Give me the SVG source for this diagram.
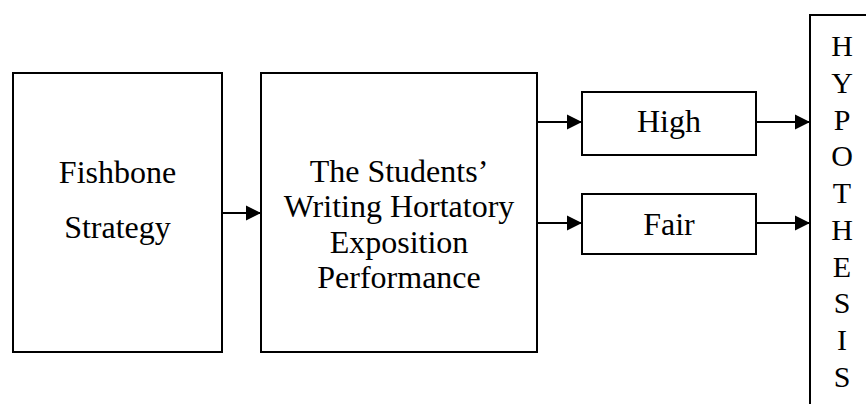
<svg xmlns="http://www.w3.org/2000/svg" width="866" height="404" viewBox="0 0 866 404">
  <defs>
    <marker id="arrow" markerUnits="userSpaceOnUse" markerWidth="16" markerHeight="16" refX="15" refY="8" orient="auto">
      <path d="M0,0.5 L15,8 L0,15.5 Z" fill="#000"/>
    </marker>
    <style>
      .box { fill: #fff; stroke: #000; stroke-width: 2; }
      .lbl { font-family: "Liberation Serif", "Times New Roman", serif; font-size: 32px; fill: #000; text-anchor: middle; }
      .vlbl { font-family: "Liberation Serif", "Times New Roman", serif; font-size: 30px; fill: #000; text-anchor: middle; }
      .conn { stroke: #000; stroke-width: 2; fill: none; marker-end: url(#arrow); }
    </style>
  </defs>
  <rect width="866" height="404" fill="#fff"/>

  <g id="fishbone">
    <rect class="box" x="13" y="73" width="209" height="279"/>
    <text class="lbl" x="117.5" y="183">Fishbone</text>
    <text class="lbl" x="117.5" y="238">Strategy</text>
  </g>

  <g id="performance">
    <rect class="box" x="261" y="73" width="276" height="279"/>
    <text class="lbl" x="399" y="182">The Students’</text>
    <text class="lbl" x="399" y="217">Writing Hortatory</text>
    <text class="lbl" x="399" y="253">Exposition</text>
    <text class="lbl" x="399" y="288">Performance</text>
  </g>

  <g id="high">
    <rect class="box" x="582" y="92" width="174" height="63"/>
    <text class="lbl" x="669" y="132">High</text>
  </g>

  <g id="fair">
    <rect class="box" x="582" y="194" width="174" height="60"/>
    <text class="lbl" x="669" y="235">Fair</text>
  </g>

  <g id="hypothesis">
    <rect class="box" x="810" y="15" width="120" height="440"/>
    <text class="vlbl" x="842" y="56">H</text>
    <text class="vlbl" x="842" y="92.75">Y</text>
    <text class="vlbl" x="842" y="129.5">P</text>
    <text class="vlbl" x="842" y="166.25">O</text>
    <text class="vlbl" x="842" y="203">T</text>
    <text class="vlbl" x="842" y="239.75">H</text>
    <text class="vlbl" x="842" y="276.5">E</text>
    <text class="vlbl" x="842" y="313.25">S</text>
    <text class="vlbl" x="842" y="350">I</text>
    <text class="vlbl" x="842" y="386.75">S</text>
  </g>

  <g id="connectors">
    <line class="conn" x1="222" y1="213" x2="261" y2="213"/>
    <line class="conn" x1="537" y1="122" x2="582" y2="122"/>
    <line class="conn" x1="537" y1="223" x2="582" y2="223"/>
    <line class="conn" x1="756" y1="122" x2="810" y2="122"/>
    <line class="conn" x1="756" y1="223" x2="810" y2="223"/>
  </g>
</svg>
